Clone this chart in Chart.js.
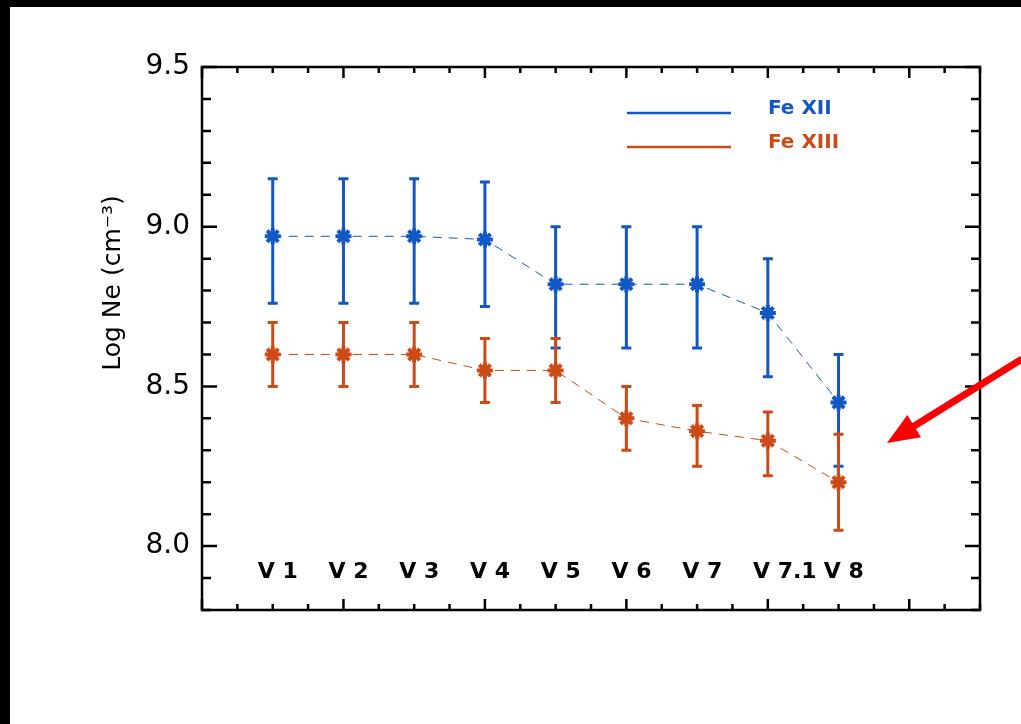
<!DOCTYPE html>
<html>
<head>
<meta charset="utf-8">
<script src="https://cdn.jsdelivr.net/npm/chart.js@4"></script>
<style>
  html, body { margin: 0; padding: 0; background: #000; }
  #box { position: absolute; left: 10px; top: 7px; width: 1011px; height: 717px; background: #fff; }
</style>
</head>
<body>
<div id="box"><canvas id="myChart"></canvas></div>
<script>
// station labels, placed at x = 1..9
const labels = ['V 1', 'V 2', 'V 3', 'V 4', 'V 5', 'V 6', 'V 7', 'V 7.1', 'V 8'];
const xPos = [1, 2, 3, 4, 5, 6, 7, 8, 9];

// Fe XII density and error range
const feXII = [8.97, 8.97, 8.97, 8.96, 8.82, 8.82, 8.82, 8.73, 8.45];
const feXIILow = [8.76, 8.76, 8.76, 8.75, 8.62, 8.62, 8.62, 8.53, 8.25];
const feXIIHigh = [9.15, 9.15, 9.15, 9.14, 9.00, 9.00, 9.00, 8.90, 8.60];

// Fe XIII density and error range
const feXIII = [8.60, 8.60, 8.60, 8.55, 8.55, 8.40, 8.36, 8.33, 8.20];
const feXIIILow = [8.50, 8.50, 8.50, 8.45, 8.45, 8.30, 8.25, 8.22, 8.05];
const feXIIIHigh = [8.70, 8.70, 8.70, 8.65, 8.65, 8.50, 8.44, 8.42, 8.35];

const yTickLabels = ['8.0', '8.5', '9.0', '9.5'];

const blue = 'rgb(18, 88, 196)';
const orange = 'rgb(204, 74, 22)';

function pts(vals) {
    return vals.map((v, i) => ({ x: xPos[i], y: v }));
}

const errs = [
    { low: feXIILow, high: feXIIHigh, color: blue },
    { low: feXIIILow, high: feXIIIHigh, color: orange },
];

const errorBars = {
    id: 'errorBars',
    beforeDatasetsDraw(chart) {
        const c = chart.ctx, xs = chart.scales.x, ys = chart.scales.y;
        c.save();
        errs.forEach(e => {
            c.strokeStyle = e.color;
            c.lineWidth = 3;
            for (i = 0; i < xPos.length; i++) {
                const px = xs.getPixelForValue(xPos[i]);
                const y1 = ys.getPixelForValue(e.low[i]);
                const y2 = ys.getPixelForValue(e.high[i]);
                c.beginPath();
                c.moveTo(px, y1); c.lineTo(px, y2);
                c.moveTo(px - 5, y1); c.lineTo(px + 5, y1);
                c.moveTo(px - 5, y2); c.lineTo(px + 5, y2);
                c.stroke();
            }
        });
        c.restore();
    }
};

const frame = {
    id: 'frame',
    afterDraw(chart) {
        const c = chart.ctx, xs = chart.scales.x, ys = chart.scales.y;
        const a = chart.chartArea;
        c.save();
        c.strokeStyle = '#000';
        c.lineWidth = 2.5;
        c.strokeRect(a.left, a.top, a.right - a.left, a.bottom - a.top);
        c.beginPath();
        for (let k = 0; k <= 17; k++) {
            const v = 7.8 + k * 0.1;
            const major = Math.abs(v * 2 - Math.round(v * 2)) < 1e-6;
            const len = major ? 15 : 9;
            const py = ys.getPixelForValue(v);
            c.moveTo(a.left, py); c.lineTo(a.left + len, py);
            c.moveTo(a.right, py); c.lineTo(a.right - len, py);
        }
        for (let k = 0; k <= 22; k++) {
            const v = k * 0.5;
            const major = v % 2 === 0;
            const len = major ? 11 : 6;
            const px = xs.getPixelForValue(v);
            c.moveTo(px, a.bottom); c.lineTo(px, a.bottom - len);
            c.moveTo(px, a.top); c.lineTo(px, a.top + len);
        }
        c.stroke();

        // station names inside the plot
        c.fillStyle = '#000';
        c.font = 'bold 22px "DejaVu Sans"';
        c.textAlign = 'left';
        c.textBaseline = 'alphabetic';
        labels.forEach((t, i) => {
            c.fillText(t, xs.getPixelForValue(xPos[i] - 0.21), ys.getPixelForValue(7.9));
        });

        // legend
        const leg = [['Fe XII', blue, 106], ['Fe XIII', orange, 140]];
        leg.forEach(l => {
            c.strokeStyle = l[1];
            c.lineWidth = 2.5;
            c.beginPath();
            c.moveTo(617, l[2]); c.lineTo(721, l[2]);
            c.stroke();
            c.fillStyle = l[1];
            c.font = 'bold 20px "DejaVu Sans"';
            c.fillText(l[0], 758, l[2] + 1);
        });

        // y title
        c.save();
        c.translate(103, 276);
        c.rotate(-Math.PI / 2);
        c.fillStyle = '#000';
        c.font = '25px "DejaVu Sans"';
        c.textAlign = 'center';
        c.textBaseline = 'middle';
        c.fillText('Log Ne (cm\u207B\u00B3)', 0, 0);
        c.restore();

        // red arrow
        const tx = 877, ty = 436, sx = 1012, sy = 352;
        const ang = Math.atan2(sy - ty, sx - tx);
        c.strokeStyle = 'rgb(250, 0, 0)';
        c.fillStyle = 'rgb(250, 0, 0)';
        c.lineWidth = 7;
        c.beginPath();
        c.moveTo(sx, sy);
        c.lineTo(tx + 24 * Math.cos(ang), ty + 24 * Math.sin(ang));
        c.stroke();
        c.beginPath();
        c.moveTo(tx, ty);
        c.lineTo(tx + 32 * Math.cos(ang) - 13 * Math.sin(ang), ty + 32 * Math.sin(ang) + 13 * Math.cos(ang));
        c.lineTo(tx + 32 * Math.cos(ang) + 13 * Math.sin(ang), ty + 32 * Math.sin(ang) - 13 * Math.cos(ang));
        c.closePath();
        c.fill();
        c.restore();
    }
};

const data = {
    datasets: [{
        label: 'Fe XII',
        data: pts(feXII),
        borderColor: blue,
        backgroundColor: blue,
        borderWidth: 1,
        borderDash: [9, 7],
        pointStyle: 'star',
        pointRadius: 8,
        pointBorderWidth: 4,
    }, {
        label: 'Fe XIII',
        data: pts(feXIII),
        borderColor: orange,
        backgroundColor: orange,
        borderWidth: 1,
        borderDash: [9, 7],
        pointStyle: 'star',
        pointRadius: 8,
        pointBorderWidth: 4,
    }],
};

const config = {
    type: 'line',
    data: data,
    options: {
        responsive: true,
        maintainAspectRatio: false,
        animation: false,
        layout: { padding: { top: 60, right: 41, left: 0, bottom: 0 } },
        plugins: { legend: { display: false }, tooltip: { enabled: false } },
        scales: {
            x: {
                type: 'linear',
                min: 0,
                max: 11,
                grid: { display: false, drawTicks: false },
                border: { display: false },
                ticks: { display: false },
                afterFit: s => { s.height = 114; }
            },
            y: {
                min: 7.8,
                max: 9.5,
                grid: { display: false, drawTicks: false },
                border: { display: false },
                ticks: {
                    stepSize: 0.1,
                    autoSkip: false,
                    padding: 12,
                    color: '#000',
                    font: { family: 'DejaVu Sans', size: 28 },
                    callback: v => {
                        const t = v.toFixed(1);
                        return yTickLabels.includes(t) && Math.abs(v * 2 - Math.round(v * 2)) < 1e-6 ? t : '';
                    }
                },
                afterFit: s => { s.width = 192; }
            }
        }
    },
    plugins: [errorBars, frame],
};

const myChart = new Chart(document.getElementById('myChart'), config);
</script>
</body>
</html>
